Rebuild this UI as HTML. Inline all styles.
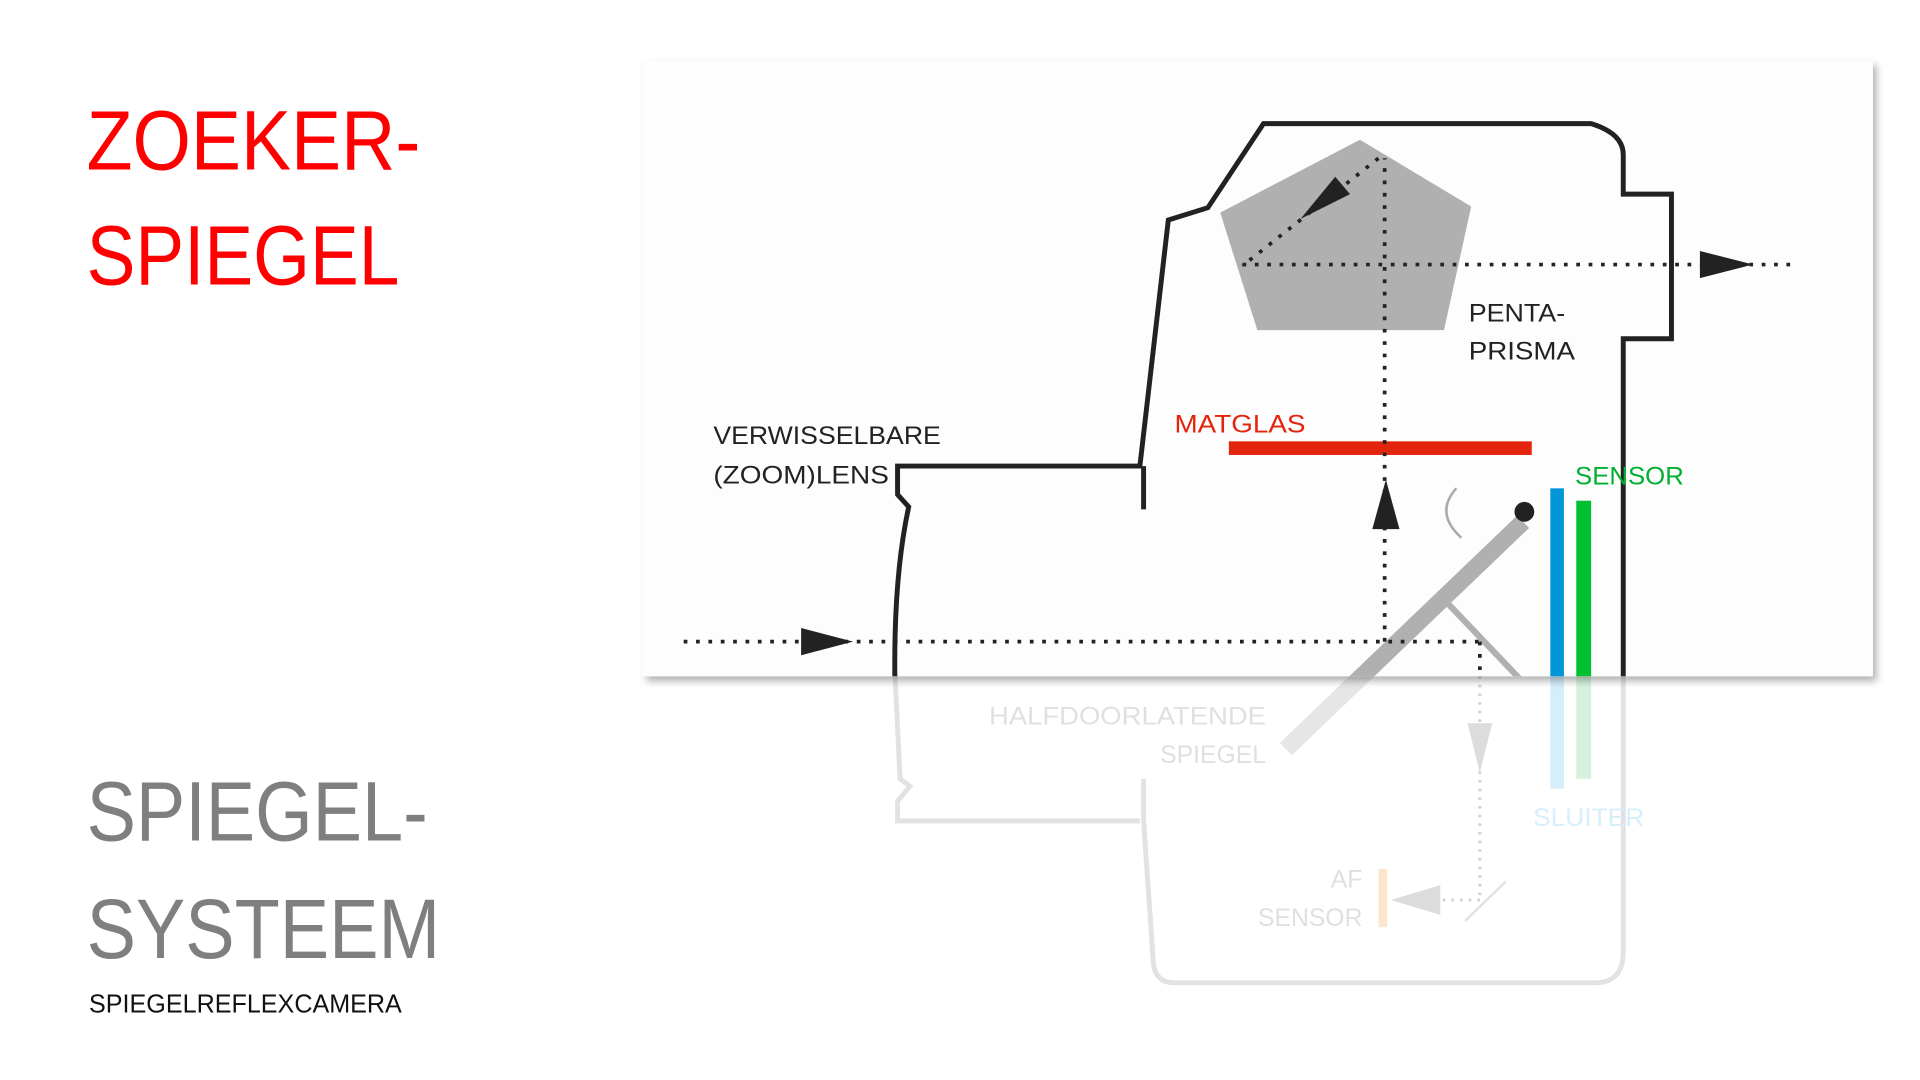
<!DOCTYPE html>
<html><head><meta charset="utf-8"><style>
html,body{margin:0;padding:0;background:#fff;}
svg{display:block}
text{font-family:"Liberation Sans",sans-serif}
</style></head><body>
<svg width="1920" height="1080" viewBox="0 0 1553 873.6" xmlns="http://www.w3.org/2000/svg">
<defs>
<filter id="sh" x="-5%" y="-5%" width="110%" height="115%"><feDropShadow dx="3" dy="4" stdDeviation="3" flood-color="#000" flood-opacity="0.3"/></filter>
</defs>
<rect width="1553" height="874" fill="#fff"/>
<text x="70" y="137" font-size="68" fill="#ff0000" textLength="270" lengthAdjust="spacingAndGlyphs">ZOEKER-</text>
<text x="70" y="230" font-size="68" fill="#ff0000" textLength="253" lengthAdjust="spacingAndGlyphs">SPIEGEL</text>
<text x="70" y="680" font-size="68" fill="#7f7f7f" textLength="276" lengthAdjust="spacingAndGlyphs">SPIEGEL-</text>
<text x="70" y="775" font-size="68" fill="#7f7f7f" textLength="286" lengthAdjust="spacingAndGlyphs">SYSTEEM</text>
<text x="72" y="819" font-size="21" fill="#111" textLength="253" lengthAdjust="spacingAndGlyphs">SPIEGELREFLEXCAMERA</text>

<g fill="none" stroke="#e2e2e2" stroke-width="4">
<path d="M724,547 L728,630 L736,636 L726,648 L726,664 L922,664"/>
<path d="M925,630 L925,664 L933,780 Q935,795 950,795 L1290,795 Q1313,795 1313,770 L1313,547"/>
</g>
<line x1="1232" y1="422" x2="1040" y2="606" stroke="#e6e6e6" stroke-width="14"/>
<rect x="1254" y="540" width="11" height="98" fill="#d4eefa"/>
<rect x="1275" y="540" width="12" height="90" fill="#d6f2dc"/>
<rect x="1115" y="703" width="7" height="47" fill="#fbe5cc"/>
<line x1="1185" y1="745" x2="1218" y2="713" stroke="#e2e2e2" stroke-width="2"/>
<g stroke="#d0d0d0" stroke-width="2.5" stroke-dasharray="2 5" fill="none">
<line x1="1197" y1="547" x2="1197" y2="728"/>
<line x1="1197" y1="728" x2="1160" y2="728"/>
</g>
<polygon points="1187,585 1207,585 1197,625" fill="#dcdcdc"/>
<polygon points="1165,716 1165,740 1125,728" fill="#dcdcdc"/>
<g font-size="20" fill="#e0e0e0" text-anchor="end">
<text x="1024" y="586" textLength="224" lengthAdjust="spacingAndGlyphs">HALFDOORLATENDE</text>
<text x="1024" y="617">SPIEGEL</text>
<text x="1102" y="718">AF</text>
<text x="1102" y="749">SENSOR</text>
</g>
<text x="1240" y="668" font-size="20" fill="#d6effa" textLength="90" lengthAdjust="spacingAndGlyphs">SLUITER</text>

<rect x="520" y="49" width="995" height="498" fill="#fdfdfd" filter="url(#sh)"/>
<svg x="520" y="49" width="995" height="498" viewBox="520 49 995 498" overflow="hidden">
<polygon points="1100,113 1190,167 1168,267 1017,267 987,172" fill="#b0b0b0"/>
<g fill="none" stroke="#222" stroke-width="4" stroke-linejoin="miter">
<path d="M724,560 Q722,470 735,410 L726,400 L726,377 L922,377 L945,178 L977,168 L1022,100 L1287,100 Q1313,108 1313,125 L1313,157 L1352,157 L1352,274 L1313,274 L1313,560"/>
<line x1="925" y1="377" x2="925" y2="412"/>
</g>
<rect x="994" y="357" width="245" height="11" fill="#e2250c"/>
<path d="M1178,395 Q1160,415 1182,435" fill="none" stroke="#aaa" stroke-width="2"/>
<line x1="1170" y1="487" x2="1232" y2="552" stroke="#b0b0b0" stroke-width="5"/>
<line x1="1232" y1="422" x2="1040" y2="606" stroke="#b0b0b0" stroke-width="14"/>
<circle cx="1233" cy="414" r="8" fill="#222"/>
<rect x="1254" y="395" width="11" height="160" fill="#0096d8"/>
<rect x="1275" y="405" width="12" height="150" fill="#00c030"/>
<g stroke="#222" stroke-width="3" stroke-dasharray="3 7" fill="none">
<line x1="553" y1="519" x2="1197" y2="519"/>
<line x1="1197" y1="519" x2="1197" y2="560"/>
<line x1="1120" y1="519" x2="1120" y2="128"/>
<line x1="1115" y1="128" x2="1005" y2="215"/>
<line x1="1005" y1="214" x2="1455" y2="214"/>
</g>
<polygon points="648,508 648,530 690,519" fill="#222"/>
<polygon points="1110,428 1132,428 1121,388" fill="#222"/>
<polygon points="1375,203 1375,225 1418,214" fill="#222"/>
<polygon points="1052,177 1092,157 1080,143" fill="#222"/>
<g font-size="20" fill="#222">
<text x="1188" y="260" textLength="78" lengthAdjust="spacingAndGlyphs">PENTA-</text>
<text x="1188" y="291" textLength="86" lengthAdjust="spacingAndGlyphs">PRISMA</text>
<text x="577" y="359" textLength="184" lengthAdjust="spacingAndGlyphs">VERWISSELBARE</text>
<text x="577" y="391" textLength="142" lengthAdjust="spacingAndGlyphs">(ZOOM)LENS</text>
</g>
<text x="950" y="350" font-size="20" fill="#e2250c" textLength="106" lengthAdjust="spacingAndGlyphs">MATGLAS</text>
<text x="1274" y="392" font-size="20" fill="#00b030" textLength="88" lengthAdjust="spacingAndGlyphs">SENSOR</text>
</svg>
</svg>
</body></html>
